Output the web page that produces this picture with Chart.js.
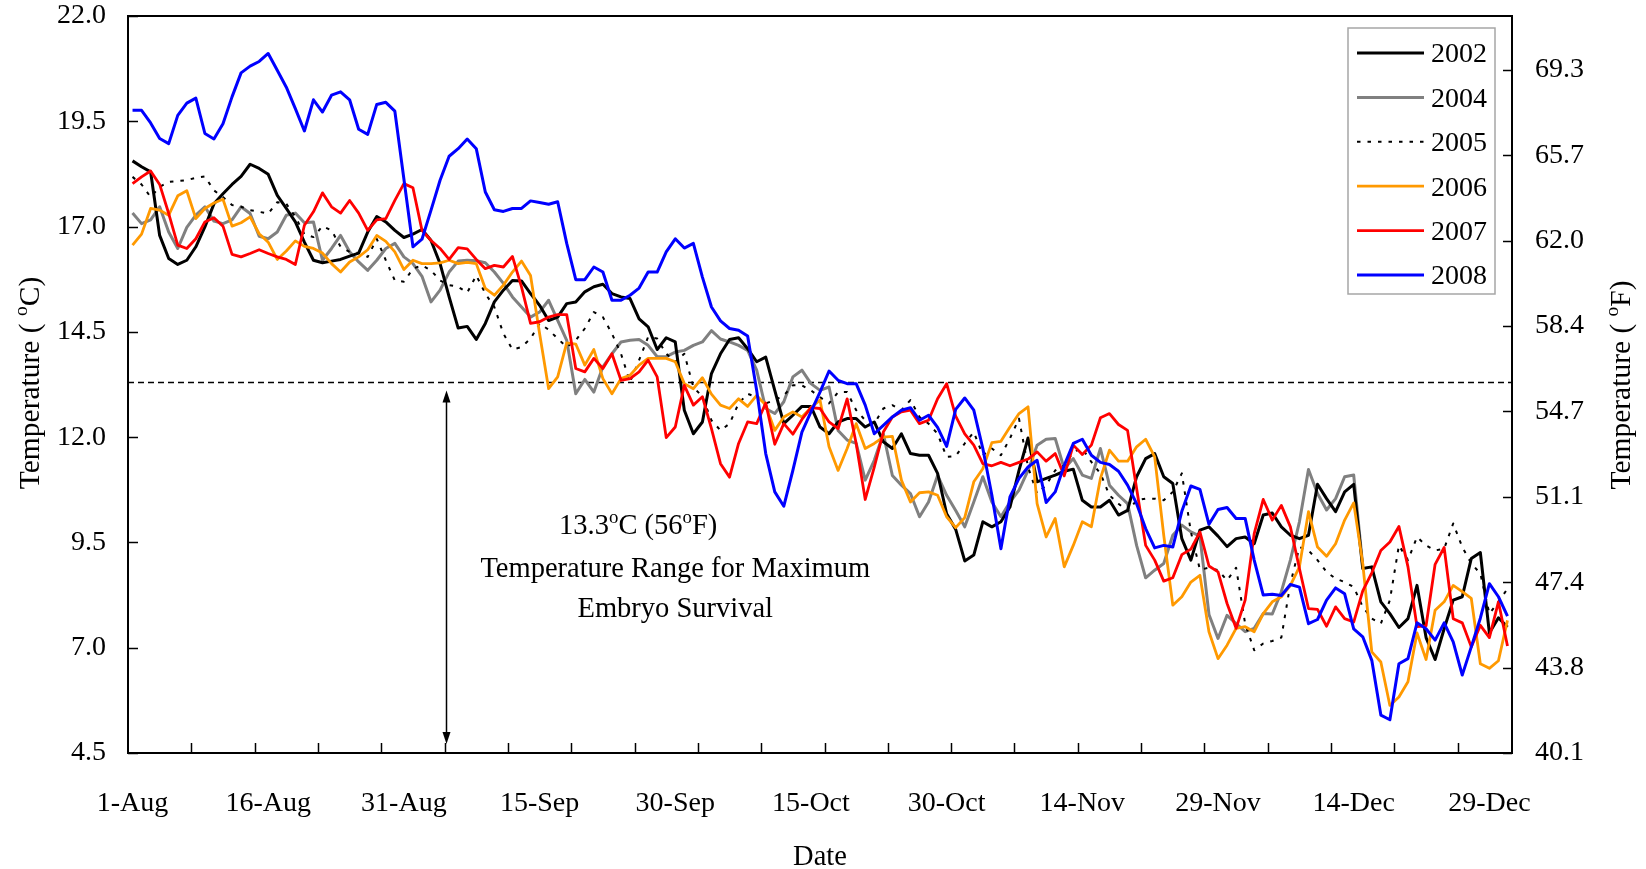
<!DOCTYPE html>
<html>
<head>
<meta charset="utf-8">
<title>Daily water temperature, August to December</title>
<script src="https://cdn.jsdelivr.net/npm/chart.js@4.4.1/dist/chart.umd.min.js"></script>
<style>
  html, body { margin: 0; padding: 0; background: #ffffff; }
  canvas { display: block; }
</style>
</head>
<body>
<canvas id="chart" width="1646" height="869"></canvas>
<script>
// ---- data: one value per day, day 0 = 1 August ----
const dayCount = 153;
const dateTickDays = [0, 15, 30, 45, 60, 75, 90, 105, 120, 135, 150];
const dateTickLabels = ['1-Aug', '16-Aug', '31-Aug', '15-Sep', '30-Sep', '15-Oct',
                        '30-Oct', '14-Nov', '29-Nov', '14-Dec', '29-Dec'];
const celsiusTicks = [4.5, 7.0, 9.5, 12.0, 14.5, 17.0, 19.5, 22.0];
const fahrenheitTicks = [40.1, 43.75, 47.4, 51.05, 54.7, 58.35, 62.0, 65.65, 69.3];
const fahrenheitLabels = ['40.1', '43.8', '47.4', '51.1', '54.7', '58.4', '62.0', '65.7', '69.3'];
const fahrenheitRange = [40.1, 71.6];
const embryoThresholdC = 13.3;

const t2002 = [
  18.56, 18.42, 18.30, 16.79, 16.24, 16.10, 16.20, 16.52, 16.99, 17.54,
  17.78, 18.00, 18.19, 18.48, 18.38, 18.24, 17.74, 17.43, 17.11, 16.63,
  16.20, 16.14, 16.18, 16.22, 16.30, 16.37, 16.87, 17.24, 17.11, 16.91,
  16.74, 16.82, 16.93, 16.67, 16.12, 15.33, 14.59, 14.63, 14.32, 14.70,
  15.21, 15.49, 15.72, 15.71, 15.41, 15.13, 14.77, 14.85, 15.17, 15.21,
  15.45, 15.57, 15.63, 15.41, 15.33, 15.29, 14.81, 14.62, 14.08, 14.36,
  14.26, 12.64, 12.08, 12.36, 13.51, 13.98, 14.32, 14.36, 14.10, 13.79,
  13.90, 13.11, 12.32, 12.52, 12.73, 12.73, 12.24, 12.08, 12.36, 12.44,
  12.44, 12.24, 12.36, 11.89, 11.73, 12.08, 11.61, 11.57, 11.57, 11.14,
  10.18, 9.81, 9.06, 9.20, 9.99, 9.87, 9.99, 10.34, 11.21, 11.98,
  10.94, 11.02, 11.10, 11.19, 11.24, 10.50, 10.34, 10.34, 10.50, 10.15,
  10.26, 11.06, 11.49, 11.61, 11.06, 10.90, 9.59, 9.08, 9.79, 9.87,
  9.65, 9.40, 9.59, 9.63, 9.47, 10.15, 10.20, 9.87, 9.67, 9.59,
  9.67, 10.88, 10.54, 10.23, 10.70, 10.88, 8.88, 8.92, 8.09, 7.81,
  7.48, 7.69, 8.48, 7.24, 6.72, 7.45, 8.13, 8.21, 9.12, 9.26,
  7.35, 7.71, 7.49
];
const t2004 = [
  17.32, 17.07, 17.16, 17.47, 16.87, 16.48, 16.98, 17.27, 17.47, 17.13,
  17.07, 17.16, 17.47, 17.31, 16.77, 16.71, 16.87, 17.27, 17.32, 17.09,
  17.11, 16.20, 16.48, 16.79, 16.40, 16.16, 15.96, 16.20, 16.48, 16.60,
  16.28, 16.12, 15.82, 15.21, 15.49, 15.92, 16.18, 16.20, 16.19, 16.14,
  15.92, 15.65, 15.33, 15.09, 14.85, 14.97, 15.25, 14.77, 14.30, 13.03,
  13.37, 13.07, 13.67, 13.98, 14.26, 14.30, 14.32, 14.18, 13.91, 13.91,
  14.02, 14.06, 14.18, 14.26, 14.53, 14.33, 14.26, 14.18, 14.06, 13.59,
  12.68, 12.56, 12.84, 13.43, 13.59, 13.27, 13.11, 13.19, 12.16, 11.93,
  11.85, 10.98, 11.45, 12.08, 11.09, 10.86, 10.66, 10.11, 10.46, 11.09,
  10.62, 10.26, 9.87, 10.46, 11.06, 10.46, 10.11, 10.46, 10.74, 11.21,
  11.81, 11.95, 11.97, 11.25, 11.49, 11.10, 11.02, 11.73, 10.86, 10.62,
  10.42, 9.43, 8.66, 8.84, 9.00, 9.67, 9.91, 9.75, 9.65, 7.79,
  7.22, 7.77, 7.57, 7.38, 7.46, 7.81, 7.80, 8.33, 9.08, 9.99,
  11.23, 10.66, 10.27, 10.54, 11.06, 11.10, 8.95
];
const t2005 = [
  18.18, 18.00, 17.70, 17.94, 18.06, 18.08, 18.10, 18.16, 18.19, 17.86,
  17.70, 17.51, 17.47, 17.39, 17.35, 17.31, 17.58, 17.54, 17.23, 16.82,
  16.75, 17.01, 16.91, 16.52, 16.40, 16.37, 16.28, 16.71, 16.20, 15.72,
  15.69, 16.00, 16.08, 15.96, 15.72, 15.61, 15.57, 15.43, 15.84, 15.41,
  15.09, 14.46, 14.08, 14.14, 14.34, 14.70, 14.55, 14.34, 14.14, 14.30,
  14.58, 14.97, 14.85, 14.46, 13.98, 13.31, 13.83, 14.38, 14.34, 13.98,
  13.79, 13.98, 13.19, 12.96, 12.40, 12.16, 12.32, 12.80, 13.03, 12.95,
  12.80, 12.88, 12.99, 13.23, 13.23, 13.11, 12.95, 12.80, 13.07, 13.07,
  12.64, 12.40, 12.32, 12.68, 12.76, 12.64, 12.88, 12.48, 12.32, 12.08,
  11.53, 11.55, 11.85, 12.12, 11.57, 11.73, 11.57, 11.97, 12.44, 11.29,
  10.66, 10.86, 11.21, 11.33, 11.65, 11.73, 11.41, 11.14, 10.62, 10.42,
  10.24, 10.50, 10.54, 10.54, 10.50, 10.70, 11.14, 9.75, 8.85, 8.90,
  8.84, 8.60, 8.90, 7.57, 6.94, 7.10, 7.16, 7.24, 8.52, 9.39,
  9.31, 9.08, 8.80, 8.64, 8.56, 8.44, 7.97, 7.69, 7.57, 8.13,
  9.43, 9.08, 9.63, 9.43, 9.31, 9.35, 9.95, 9.39, 9.00, 8.76,
  7.81, 8.09, 8.40
];
const t2006 = [
  16.56, 16.82, 17.43, 17.39, 17.27, 17.73, 17.85, 17.19, 17.43, 17.56,
  17.65, 17.01, 17.09, 17.23, 16.83, 16.63, 16.22, 16.42, 16.66, 16.53,
  16.48, 16.37, 16.12, 15.92, 16.16, 16.28, 16.45, 16.79, 16.65, 16.40,
  15.98, 16.20, 16.12, 16.12, 16.14, 16.20, 16.12, 16.15, 16.12, 15.53,
  15.37, 15.61, 15.92, 16.18, 15.84, 14.46, 13.15, 13.43, 14.24, 14.21,
  13.71, 14.08, 13.39, 13.03, 13.39, 13.47, 13.71, 13.87, 13.87, 13.87,
  13.79, 13.27, 13.15, 13.41, 13.02, 12.76, 12.68, 12.91, 12.73, 12.99,
  12.76, 12.16, 12.48, 12.60, 12.48, 12.70, 12.88, 11.77, 11.21, 11.73,
  12.32, 11.73, 11.85, 12.00, 12.02, 10.98, 10.46, 10.68, 10.70, 10.62,
  10.11, 9.85, 10.09, 10.94, 11.25, 11.87, 11.90, 12.24, 12.56, 12.72,
  10.42, 9.63, 10.07, 8.92, 9.43, 9.99, 9.87, 11.02, 11.69, 11.43,
  11.43, 11.77, 11.95, 11.53, 9.67, 8.01, 8.21, 8.56, 8.72, 7.38,
  6.74, 7.06, 7.46, 7.50, 7.38, 7.81, 8.09, 8.21, 8.48, 8.92,
  10.23, 9.39, 9.17, 9.47, 10.03, 10.44, 9.00, 6.90, 6.66, 5.63,
  5.83, 6.19, 7.35, 6.72, 7.89, 8.09, 8.48, 8.33, 8.17, 6.62,
  6.51, 6.69, 7.65
];
const t2007 = [
  18.02, 18.18, 18.32, 18.00, 17.31, 16.56, 16.48, 16.71, 17.11, 17.21,
  17.01, 16.34, 16.28, 16.36, 16.45, 16.36, 16.28, 16.22, 16.10, 17.03,
  17.35, 17.80, 17.47, 17.32, 17.62, 17.32, 16.91, 17.16, 17.19, 17.62,
  18.02, 17.92, 16.91, 16.67, 16.48, 16.22, 16.50, 16.47, 16.22, 16.00,
  16.08, 16.04, 16.29, 15.57, 14.70, 14.74, 14.85, 14.91, 14.91, 13.63,
  13.55, 13.87, 13.63, 13.98, 13.35, 13.39, 13.55, 13.83, 13.43, 11.99,
  12.24, 13.23, 12.76, 12.96, 12.20, 11.37, 11.05, 11.85, 12.36, 12.32,
  12.81, 11.83, 12.32, 12.07, 12.42, 12.70, 12.68, 12.36, 12.20, 12.91,
  11.85, 10.52, 11.29, 12.12, 12.48, 12.60, 12.64, 12.32, 12.40, 12.91,
  13.27, 12.50, 12.08, 11.81, 11.37, 11.32, 11.40, 11.32, 11.40, 11.48,
  11.65, 11.43, 11.61, 11.08, 11.81, 11.59, 11.81, 12.46, 12.56, 12.30,
  12.16, 10.78, 9.43, 9.08, 8.58, 8.66, 9.21, 9.34, 9.75, 8.94,
  8.80, 8.05, 7.46, 8.13, 9.71, 10.52, 10.03, 10.38, 9.87, 8.88,
  7.93, 7.91, 7.51, 7.97, 7.69, 7.61, 8.35, 8.78, 9.31, 9.51,
  9.88, 8.92, 7.50, 7.52, 8.98, 9.38, 7.69, 7.59, 7.02, 7.53,
  7.24, 8.09, 7.04
];
const t2008 = [
  19.76, 19.76, 19.46, 19.09, 18.97, 19.64, 19.93, 20.05, 19.21, 19.08,
  19.44, 20.08, 20.65, 20.81, 20.92, 21.11, 20.71, 20.31, 19.80, 19.27,
  20.01, 19.72, 20.12, 20.20, 20.01, 19.31, 19.19, 19.90, 19.95, 19.74,
  18.13, 16.52, 16.70, 17.39, 18.10, 18.67, 18.85, 19.08, 18.85, 17.82,
  17.40, 17.36, 17.43, 17.43, 17.61, 17.57, 17.53, 17.59, 16.60, 15.74,
  15.74, 16.04, 15.92, 15.25, 15.25, 15.37, 15.54, 15.92, 15.92, 16.40,
  16.71, 16.49, 16.60, 15.80, 15.09, 14.76, 14.58, 14.54, 14.40, 13.11,
  11.61, 10.70, 10.36, 11.21, 12.12, 12.60, 13.07, 13.57, 13.35, 13.27,
  13.27, 12.76, 12.08, 12.28, 12.48, 12.64, 12.70, 12.40, 12.52, 12.23,
  11.78, 12.66, 12.93, 12.64, 11.73, 10.62, 9.35, 10.58, 11.02, 11.29,
  11.45, 10.45, 10.70, 11.33, 11.85, 11.95, 11.57, 11.40, 11.35, 11.19,
  10.86, 10.42, 9.83, 9.37, 9.43, 9.39, 10.24, 10.84, 10.76, 9.93,
  10.28, 10.33, 10.07, 10.07, 9.08, 8.25, 8.27, 8.24, 8.50, 8.44,
  7.57, 7.67, 8.13, 8.42, 8.28, 7.45, 7.26, 6.70, 5.40, 5.29,
  6.62, 6.74, 7.59, 7.45, 7.18, 7.59, 7.14, 6.35, 7.02, 7.70,
  8.52, 8.21, 7.75
];

// ---- drawing ----
const FONT = '"Liberation Serif", "Times New Roman", serif';
const TICK_SIZE = 28;
const NOTE_SIZE = 28.5;
const SIDE_TITLE_SIZE = 29.5;
Chart.defaults.font.family = FONT;
Chart.defaults.font.size = TICK_SIZE;
Chart.defaults.color = '#000000';

const toPoints = arr => arr.map((v, i) => ({ x: i, y: v }));

function series(label, values, color, width, dash, order) {
  return {
    label, data: toPoints(values), borderColor: color, backgroundColor: color,
    borderWidth: width, borderDash: dash, pointRadius: 0, pointHoverRadius: 0,
    tension: 0, fill: false, order, yAxisID: 'y', borderJoinStyle: 'round', borderCapStyle: 'butt'
  };
}

// text with a raised small "o" for the degree marks
function drawRich(ctx, parts, x, y, align, size) {
  const supSize = size * 0.66;
  let total = 0;
  const widths = parts.map(p => {
    ctx.font = (p.sup ? supSize : size) + 'px ' + FONT;
    const w = ctx.measureText(p.t).width;
    total += w;
    return w;
  });
  let cx = align === 'center' ? x - total / 2 : x;
  ctx.textAlign = 'left';
  ctx.textBaseline = 'alphabetic';
  parts.forEach((p, i) => {
    ctx.font = (p.sup ? supSize : size) + 'px ' + FONT;
    ctx.fillText(p.t, cx, p.sup ? y - size * 0.40 : y);
    cx += widths[i];
  });
}

function arrowHead(ctx, x, tipY, dir) {
  ctx.beginPath();
  ctx.moveTo(x, tipY);
  ctx.lineTo(x - 4, tipY + dir * 12);
  ctx.lineTo(x + 4, tipY + dir * 12);
  ctx.closePath();
  ctx.fill();
}

// keep the plot area fixed: no extra room reserved for half tick labels
function noEdgePadding(s) {
  s.paddingTop = 0; s.paddingBottom = 0; s.paddingLeft = 0; s.paddingRight = 0;
}

const decorations = {
  id: 'decorations',
  beforeDatasetsDraw(chart) {
    const { ctx, chartArea: a, scales: { x, y } } = chart;
    const yT = y.getPixelForValue(embryoThresholdC);
    ctx.save();
    // threshold line
    ctx.strokeStyle = '#000000';
    ctx.lineWidth = 1.5;
    ctx.setLineDash([6, 4]);
    ctx.beginPath();
    ctx.moveTo(a.left, yT);
    ctx.lineTo(a.right, yT);
    ctx.stroke();
    ctx.setLineDash([]);
    // double arrow from the threshold down to the axis
    const ax = Math.round(x.getPixelForValue(34.6)) + 0.5;
    const top = yT + 8, bottom = y.getPixelForValue(4.5) - 9;
    ctx.lineWidth = 1.5;
    ctx.beginPath();
    ctx.moveTo(ax, top + 10);
    ctx.lineTo(ax, bottom - 10);
    ctx.stroke();
    ctx.fillStyle = '#000000';
    arrowHead(ctx, ax, top, 1);
    arrowHead(ctx, ax, bottom, -1);
    // annotation
    drawRich(ctx, [{ t: '13.3' }, { t: 'o', sup: true }, { t: 'C (56' }, { t: 'o', sup: true }, { t: 'F)' }],
             x.getPixelForValue(55.9), y.getPixelForValue(9.70), 'center', NOTE_SIZE);
    drawRich(ctx, [{ t: 'Temperature Range for Maximum' }],
             x.getPixelForValue(60.0), y.getPixelForValue(8.68), 'center', NOTE_SIZE);
    drawRich(ctx, [{ t: 'Embryo Survival' }],
             x.getPixelForValue(60.0), y.getPixelForValue(7.73), 'center', NOTE_SIZE);
    ctx.restore();
  },
  afterDraw(chart) {
    const { ctx, chartArea: a, scales: { x, y, y2 } } = chart;
    ctx.save();
    ctx.strokeStyle = '#000000';
    // plot frame
    ctx.lineWidth = 2;
    ctx.strokeRect(a.left, a.top, a.right - a.left, a.bottom - a.top);
    // inward tick marks
    ctx.lineWidth = 1.5;
    ctx.beginPath();
    celsiusTicks.forEach(v => {
      const py = Math.round(y.getPixelForValue(v)) + 0.5;
      ctx.moveTo(a.left, py); ctx.lineTo(a.left + 10, py);
    });
    fahrenheitTicks.forEach(v => {
      const py = Math.round(y2.getPixelForValue(v)) + 0.5;
      ctx.moveTo(a.right, py); ctx.lineTo(a.right - 9, py);
    });
    for (let d = 6.5; d < dayCount - 0.5; d += 7) {
      const px = Math.round(x.getPixelForValue(d)) + 0.5;
      ctx.moveTo(px, a.bottom); ctx.lineTo(px, a.bottom - 10);
    }
    ctx.stroke();

    // axis titles
    ctx.fillStyle = '#000000';
    ctx.save();
    ctx.translate(39, 383);
    ctx.rotate(-Math.PI / 2);
    drawRich(ctx, [{ t: 'Temperature ( ' }, { t: 'o', sup: true }, { t: 'C)' }], 0, 0, 'center', SIDE_TITLE_SIZE);
    ctx.restore();
    ctx.save();
    ctx.translate(1630, 385);
    ctx.rotate(-Math.PI / 2);
    drawRich(ctx, [{ t: 'Temperature ( ' }, { t: 'o', sup: true }, { t: 'F)' }], 0, 0, 'center', SIDE_TITLE_SIZE);
    ctx.restore();
    drawRich(ctx, [{ t: 'Date' }], (a.left + a.right) / 2, 865, 'center', NOTE_SIZE);

    // legend
    const lx = 1348, ly = 28, lw = 147, lh = 266;
    ctx.fillStyle = '#ffffff';
    ctx.fillRect(lx, ly, lw, lh);
    ctx.strokeStyle = '#a6a6a6';
    ctx.lineWidth = 1.5;
    ctx.strokeRect(lx, ly, lw, lh);
    const legendOrder = [...chart.data.datasets].sort((p, q) => p.label.localeCompare(q.label));
    legendOrder.forEach((ds, i) => {
      const ry = 53 + i * 44.4;
      ctx.strokeStyle = ds.borderColor;
      ctx.lineWidth = ds.borderWidth;
      ctx.setLineDash(ds.borderDash || []);
      ctx.beginPath();
      ctx.moveTo(1357, ry);
      ctx.lineTo(1424, ry);
      ctx.stroke();
      ctx.setLineDash([]);
      ctx.fillStyle = '#000000';
      ctx.font = TICK_SIZE + 'px ' + FONT;
      ctx.textAlign = 'left';
      ctx.textBaseline = 'middle';
      ctx.fillText(ds.label, 1431, ry + 2);
    });
    ctx.restore();
  }
};

new Chart(document.getElementById('chart'), {
  type: 'line',
  data: {
    datasets: [
      series('2002', t2002, '#000000', 3, [], 3),
      series('2004', t2004, '#808080', 3, [], 5),
      series('2005', t2005, '#000000', 2, [3.5, 7], 4),
      series('2006', t2006, '#ff9900', 2.8, [], 2),
      series('2007', t2007, '#ff0000', 2.8, [], 1),
      series('2008', t2008, '#0000ff', 3, [], 0)
    ]
  },
  options: {
    responsive: false,
    animation: false,
    devicePixelRatio: 1,
    layout: { padding: { top: 16, left: 0, right: 0, bottom: 0 } },
    plugins: { legend: { display: false }, tooltip: { enabled: false }, title: { display: false } },
    scales: {
      x: {
        type: 'linear', position: 'bottom', min: -0.5, max: dayCount - 0.5,
        grid: { display: false, drawTicks: false, tickLength: 0 },
        border: { display: false },
        afterBuildTicks: s => { s.ticks = dateTickDays.map(v => ({ value: v })); },
        afterFit: s => { s.height = 116; noEdgePadding(s); },
        ticks: {
          autoSkip: false, maxRotation: 0, minRotation: 0, padding: 34,
          callback: v => dateTickLabels[dateTickDays.indexOf(v)]
        }
      },
      y: {
        type: 'linear', position: 'left', min: 4.5, max: 22.0,
        grid: { display: false, drawTicks: false, tickLength: 0 },
        border: { display: false },
        afterBuildTicks: s => { s.ticks = celsiusTicks.map(v => ({ value: v })); },
        afterFit: s => { s.width = 128; noEdgePadding(s); },
        ticks: { padding: 22, callback: v => v.toFixed(1) }
      },
      y2: {
        type: 'linear', position: 'right', min: fahrenheitRange[0], max: fahrenheitRange[1],
        grid: { display: false, drawTicks: false, tickLength: 0 },
        border: { display: false },
        afterBuildTicks: s => { s.ticks = fahrenheitTicks.map(v => ({ value: v })); },
        afterFit: s => { s.width = 134; noEdgePadding(s); },
        ticks: { padding: 23, callback: v => fahrenheitLabels[fahrenheitTicks.indexOf(v)] }
      }
    }
  },
  plugins: [decorations]
});
</script>
</body>
</html>
